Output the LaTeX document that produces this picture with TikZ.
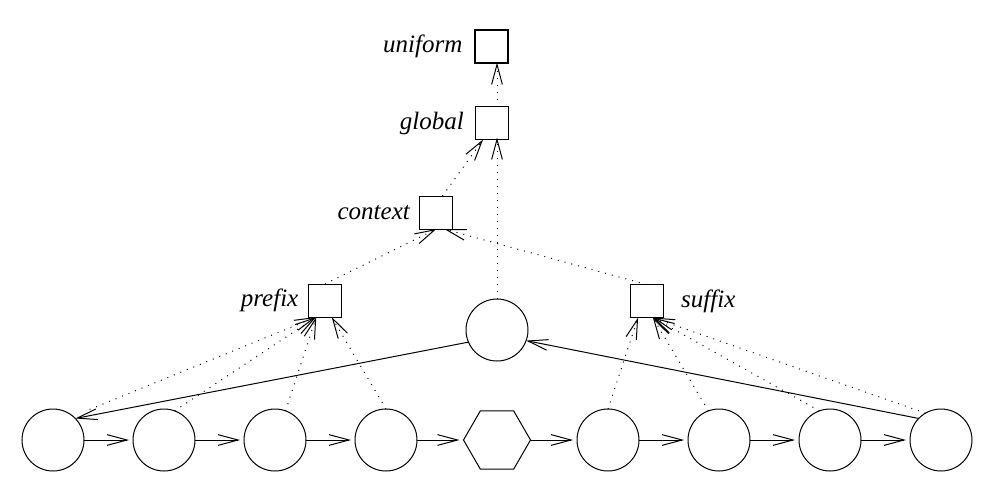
\documentclass[tikz,border=0pt]{standalone}
\usepackage{fontspec}
\setmainfont{Liberation Serif}
\usetikzlibrary{arrows.meta,shapes.geometric,positioning}
\begin{document}
\begin{tikzpicture}[x=1pt,y=-1pt,
  sqbox/.style={draw,line width=1pt,minimum size=33pt,inner sep=0pt,outer sep=0pt},
  cnode/.style={draw,circle,line width=1pt,minimum size=62pt,inner sep=0pt,outer sep=0pt},
  hexa/.style={draw,regular polygon,regular polygon sides=6,line width=1pt,minimum size=67pt,inner sep=0pt,outer sep=0pt},
  lbl/.style={font=\itshape\fontsize{25}{30}\selectfont,inner sep=0pt},
  vtip/.style={-{Straight Barb[length=20pt,width=10pt,angle'=30]}},
  vdots/.style={vtip,line width=1pt,dash pattern=on 1pt off 6pt},
  sarrow/.style={vtip,line width=1pt}
]
\useasboundingbox (0,0) rectangle (1005,496);
% boxes
\node[sqbox,line width=2pt] (u) at (491,46) {};
\node[sqbox] (g) at (491.5,123) {};
\node[sqbox] (cx) at (435.5,212.5) {};
\node[sqbox] (pf) at (325,300.5) {};
\node[sqbox] (sf) at (646.5,301) {};
% labels
\node[lbl,left=12pt of u] (lu) {uniform};
\node[lbl,left=11pt of g] (lg) {global};
\node[lbl,left=9pt of cx] (lc) {context};
\node[lbl,left=10pt of pf] (lp) {prefix};
\node[lbl,right=18pt of sf] (ls) {suffix};
% middle circle
\node[cnode] (m) at (497,330) {};
% bottom row
\foreach \i/\x in {1/53,2/164,3/275,4/386,6/608,7/719,8/830,9/941}
  \node[cnode] (c\i) at (\x,440) {};
\node[hexa] (c5) at (497,440) {};
% chain
\foreach \i/\j in {1/2,2/3,3/4,4/5,5/6,6/7,7/8,8/9}
  \draw[sarrow,shorten >=4pt] (c\i.east) -- (c\j.west);
% dotted hierarchy
\draw[vdots] (g.north -| m.center) -- (u.south -| m.center);
\draw[vdots] (m.north) -- ([yshift=2pt]m.north |- g.south);
\draw[vdots] (cx.67) -- (g.243);
\draw[vdots] (pf.north) -- (cx.273);
\draw[vdots] (sf.north) -- (cx.298);
\draw[vdots,shorten <=18pt] (c1.50) -- (pf.242);
\draw[vdots] (c2.70) -- (pf.242);
\draw[vdots] (c3.70) -- (pf.242);
\draw[vdots] (c4.90) -- (pf.292);
\draw[vdots] (c6.90) -- (sf.243);
\draw[vdots] (c7.110) -- (sf.291);
\draw[vdots] (c8.110) -- (sf.291);
\draw[vdots] (c9.120) -- (sf.291);
% solid long arrows
\draw[sarrow] (m.203) -- (c1.44);
\draw[sarrow] (c9.136) -- (m.340);
\end{tikzpicture}
\end{document}
